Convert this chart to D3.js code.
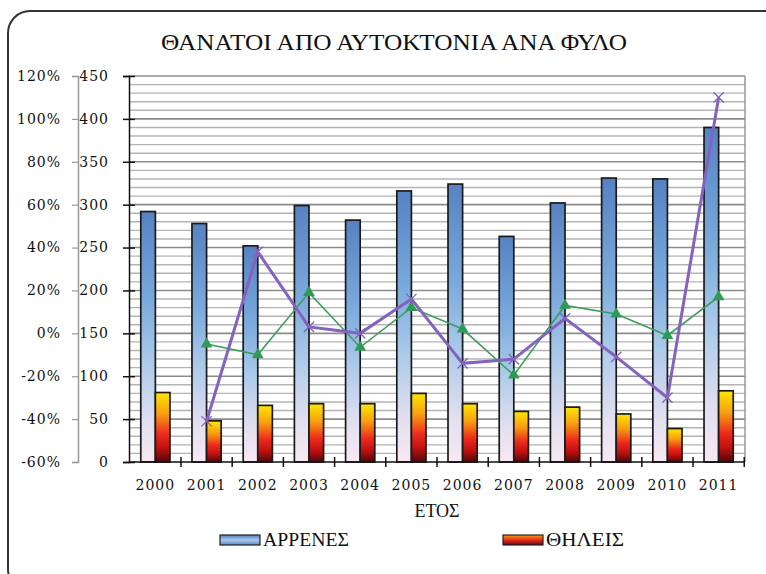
<!DOCTYPE html>
<html>
<head>
<meta charset="utf-8">
<script src="https://cdn.jsdelivr.net/npm/d3@7"></script>
<style>
  body { margin: 0; background: #fff; }
  svg text { font-family: "DejaVu Serif", serif; fill: #111; }
</style>
</head>
<body>
<div id="chart"></div>
<script>
// data
var years = ["2000","2001","2002","2003","2004","2005","2006","2007","2008","2009","2010","2011"];
var males = [292, 278, 252, 299, 282, 316, 324, 263, 302, 331, 330, 390];
var females = [81, 48, 66, 68, 68, 80, 68, 59, 64, 56, 39, 83];
// yearly change (%), from 2001 on
var changeYears = years.slice(1);
var malesChange = [-5, -10, 19, -6.5, 12, 2, -19.5, 13, 9, -1, 17];
var femalesChange = [-41, 38, 3, 0, 16, -14, -12, 7, -11, -30, 110];
var countTicks = [0, 50, 100, 150, 200, 250, 300, 350, 400, 450];
var pctTicks = [-60, -40, -20, 0, 20, 40, 60, 80, 100, 120];

var W = 766, H = 574;
var plot = {left: 129, right: 745, top: 76, bottom: 462};

var svg = d3.select("#chart").append("svg")
    .attr("width", W)
    .attr("height", H);

var defs = svg.append("defs");

function vgrad(id, stops) {
    var g = defs.append("linearGradient")
        .attr("id", id)
        .attr("x1", 0).attr("y1", 0).attr("x2", 0).attr("y2", 1);
    stops.forEach(function(s) {
        g.append("stop").attr("offset", s[0]).attr("stop-color", s[1]);
    });
}
vgrad("gradM", [[0, "#5682c2"], [0.35, "#79a9dc"], [0.6, "#abcaea"], [0.85, "#e4e0f0"], [1, "#f8e8f2"]]);
vgrad("gradF", [[0, "#ffe600"], [0.3, "#f8a010"], [0.6, "#ec2a1c"], [0.8, "#c01010"], [1, "#500808"]]);
vgrad("gradMLeg", [[0, "#4f7fc0"], [0.5, "#a8c9ea"], [1, "#5b8ac8"]]);
vgrad("gradFLeg", [[0, "#f8a010"], [0.5, "#ec2a1c"], [1, "#600808"]]);

// outer frame
svg.append("rect")
    .attr("x", 8).attr("y", 11)
    .attr("width", 780).attr("height", 580)
    .attr("rx", 22)
    .attr("fill", "none")
    .attr("stroke", "#333")
    .attr("stroke-width", 2);

// scales
var x = d3.scaleBand()
    .domain(years)
    .range([plot.left, plot.right])
    .paddingInner(0.43)
    .paddingOuter(0.23);
var x1 = d3.scaleBand()
    .domain(["m", "f"])
    .range([0, x.bandwidth()]);
var y = d3.scaleLinear()
    .domain([0, 450])
    .range([plot.bottom, plot.top]);
var y2 = d3.scaleLinear()
    .domain([-60, 120])
    .range([plot.bottom, plot.top]);

// gridlines: minor every 10, major every 50
var minor = d3.range(10, 450, 10).filter(function(v) { return v % 50 !== 0; });
svg.append("g").selectAll("line")
    .data(minor)
    .enter().append("line")
    .attr("x1", plot.left).attr("x2", plot.right)
    .attr("y1", function(d) { return y(d); })
    .attr("y2", function(d) { return y(d); })
    .attr("stroke", "#b4b4b4")
    .attr("stroke-width", 1.4);
svg.append("g").selectAll("line")
    .data(countTicks.slice(1))
    .enter().append("line")
    .attr("x1", plot.left).attr("x2", plot.right)
    .attr("y1", function(d) { return y(d); })
    .attr("y2", function(d) { return y(d); })
    .attr("stroke", "#8c8c8c")
    .attr("stroke-width", 1.6);

// right border of plot area
svg.append("line")
    .attr("x1", plot.right).attr("x2", plot.right)
    .attr("y1", plot.top).attr("y2", plot.bottom)
    .attr("stroke", "#999")
    .attr("stroke-width", 1.5);

// bars
var groups = svg.append("g").selectAll("g")
    .data(years)
    .enter().append("g")
    .attr("transform", function(d) { return "translate(" + x(d) + ",0)"; });

groups.append("rect")
    .attr("x", x1("m"))
    .attr("width", x1.bandwidth())
    .attr("y", function(d, i) { return y(males[i]); })
    .attr("height", function(d, i) { return y(0) - y(males[i]); })
    .attr("fill", "url(#gradM)")
    .attr("stroke", "#1a1a1a")
    .attr("stroke-width", 1.7);

groups.append("rect")
    .attr("x", x1("f"))
    .attr("width", x1.bandwidth())
    .attr("y", function(d, i) { return y(females[i]); })
    .attr("height", function(d, i) { return y(0) - y(females[i]); })
    .attr("fill", "url(#gradF)")
    .attr("stroke", "#1a1a1a")
    .attr("stroke-width", 1.7);

// axes
var axisLeft = svg.append("g")
    .attr("transform", "translate(" + plot.left + ",0)")
    .call(d3.axisLeft(y).tickValues(countTicks).tickSize(6).tickFormat(""));
axisLeft.select(".domain").attr("stroke", "#111").attr("stroke-width", 1.5);
axisLeft.selectAll(".tick line").attr("x1", 6).attr("stroke", "#111").attr("stroke-width", 1.5);

svg.append("g").selectAll("text")
    .data(countTicks)
    .enter().append("text")
    .attr("x", 109)
    .attr("y", function(d) { return y(d); })
    .attr("dy", "0.35em")
    .attr("text-anchor", "end")
    .style("font-size", "14px")
    .style("letter-spacing", "1px")
    .text(function(d) { return d; });

var axisPct = svg.append("g")
    .attr("transform", "translate(78,0)")
    .call(d3.axisLeft(y2).tickValues(pctTicks).tickSize(6).tickFormat(""));
axisPct.select(".domain").attr("stroke", "#999").attr("stroke-width", 1.5);
axisPct.selectAll(".tick line").attr("stroke", "#999").attr("stroke-width", 1.2);

svg.append("g").selectAll("text")
    .data(pctTicks)
    .enter().append("text")
    .attr("x", 61)
    .attr("y", function(d) { return y2(d); })
    .attr("dy", "0.35em")
    .attr("text-anchor", "end")
    .style("font-size", "14px")
    .style("letter-spacing", "1px")
    .text(function(d) { return d + "%"; });

// x axis with ticks between categories
svg.append("line")
    .attr("x1", plot.left).attr("x2", plot.right)
    .attr("y1", plot.bottom).attr("y2", plot.bottom)
    .attr("stroke", "#111")
    .attr("stroke-width", 1.5);
var step = x.step();
svg.append("g").selectAll("line")
    .data(years)
    .enter().append("line")
    .attr("x1", function(d) { return x(d) - x.paddingInner() * step / 2 + step; })
    .attr("x2", function(d) { return x(d) - x.paddingInner() * step / 2 + step; })
    .attr("y1", plot.bottom - 5)
    .attr("y2", plot.bottom + 5)
    .attr("stroke", "#111")
    .attr("stroke-width", 1.5);

svg.append("g").selectAll("text")
    .data(years)
    .enter().append("text")
    .attr("x", function(d) { return x(d) + x.bandwidth() / 2; })
    .attr("y", 490)
    .attr("text-anchor", "middle")
    .style("font-size", "14px")
    .style("letter-spacing", "1px")
    .text(function(d) { return d; });

// change lines
var cx = function(d) { return x(d) + x.bandwidth() / 2; };

var lineM = d3.line()
    .x(function(d, i) { return cx(changeYears[i]); })
    .y(function(d) { return y2(d); });

svg.append("path")
    .datum(malesChange)
    .attr("d", lineM)
    .attr("fill", "none")
    .attr("stroke", "#3c9e5a")
    .attr("stroke-width", 1.6);

svg.append("g").selectAll("path")
    .data(malesChange)
    .enter().append("path")
    .attr("transform", function(d, i) { return "translate(" + cx(changeYears[i]) + "," + y2(d) + ")"; })
    .attr("d", d3.symbol().type(d3.symbolTriangle).size(60))
    .attr("fill", "#2e9a56");

svg.append("path")
    .datum(femalesChange)
    .attr("d", lineM)
    .attr("fill", "none")
    .attr("stroke", "#8462bf")
    .attr("stroke-width", 3);

svg.append("g").selectAll("path")
    .data(femalesChange)
    .enter().append("path")
    .attr("transform", function(d, i) { return "translate(" + cx(changeYears[i]) + "," + y2(d) + ")"; })
    .attr("d", d3.symbol().type(d3.symbolX).size(70))
    .attr("fill", "none")
    .attr("stroke", "#8462bf")
    .attr("stroke-width", 1.3);

// title
svg.append("text")
    .attr("x", 394)
    .attr("y", 50)
    .attr("text-anchor", "middle")
    .attr("textLength", 466)
    .attr("lengthAdjust", "spacingAndGlyphs")
    .style("font-family", "'Liberation Serif', serif")
    .style("font-size", "23px")
    .text("ΘΑΝΑΤΟΙ ΑΠΟ ΑΥΤΟΚΤΟΝΙΑ ΑΝΑ ΦΥΛΟ");

// x axis title
svg.append("text")
    .attr("x", (plot.left + plot.right) / 2)
    .attr("y", 517)
    .attr("text-anchor", "middle")
    .style("font-family", "'Liberation Serif', serif")
    .style("font-size", "18px")
    .text("ΕΤΟΣ");

// legend
var legend = [
    {label: "ΑΡΡΕΝΕΣ", fill: "url(#gradMLeg)", x: 220, len: 86},
    {label: "ΘΗΛΕΙΣ", fill: "url(#gradFLeg)", x: 503, len: 78}
];
var lg = svg.append("g").selectAll("g")
    .data(legend)
    .enter().append("g")
    .attr("transform", function(d) { return "translate(" + d.x + ",535)"; });
lg.append("rect")
    .attr("width", 40).attr("height", 10)
    .attr("fill", function(d) { return d.fill; })
    .attr("stroke", "#222")
    .attr("stroke-width", 1.2);
lg.append("text")
    .attr("x", 43)
    .attr("y", 11)
    .attr("textLength", function(d) { return d.len; })
    .attr("lengthAdjust", "spacingAndGlyphs")
    .style("font-family", "'Liberation Serif', serif")
    .style("font-size", "18px")
    .text(function(d) { return d.label; });
</script>
</body>
</html>
